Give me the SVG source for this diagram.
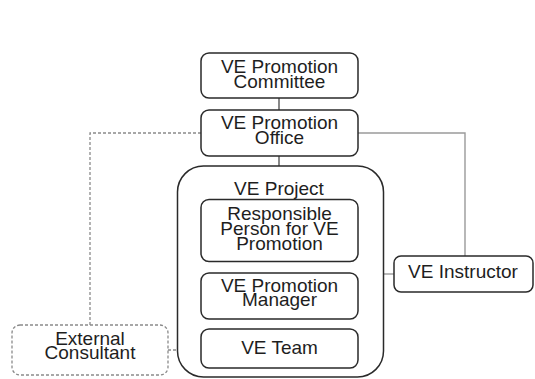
<svg xmlns="http://www.w3.org/2000/svg" width="535" height="379" viewBox="0 0 535 379">
  <style>
    .box { fill: #ffffff; stroke: #2a2a2a; stroke-width: 1.5; }
    .dash-box { fill: #ffffff; stroke: #8a8a8a; stroke-width: 1.3; stroke-dasharray: 3 2; }
    .label { font-family: "Liberation Sans", Arial, sans-serif; font-size: 19px; fill: #1e1e1e; text-anchor: middle; }
    .link { fill: none; stroke: #3a3a3a; stroke-width: 1.2; }
    .link-light { fill: none; stroke: #9a9a9a; stroke-width: 1.4; }
    .link-dash { fill: none; stroke: #8a8a8a; stroke-width: 1.3; stroke-dasharray: 3 2; }
  </style>
  <rect width="535" height="379" fill="#ffffff"/>

  <g id="connectors">
    <line class="link" x1="279" y1="98" x2="279" y2="110"/>
    <line class="link" x1="279" y1="156" x2="279" y2="166"/>
    <line class="link" x1="279" y1="262" x2="279" y2="273"/>
    <line class="link" x1="279" y1="319" x2="279" y2="329"/>
    <polyline class="link-light" points="358,133 465,133 465,256"/>
    <line class="link-light" x1="384" y1="274" x2="394" y2="274"/>
    <polyline class="link-dash" points="201,133 90,133 90,325"/>
    <line class="link-dash" x1="168" y1="350" x2="201" y2="350"/>
  </g>

  <g id="ve-project">
    <rect class="box" x="177.5" y="166" width="206" height="211" rx="26" ry="26"/>
    <text class="label" x="279" y="195">VE Project</text>
  </g>

  <g id="ve-promotion-committee">
    <rect class="box" x="201" y="53" width="157" height="45" rx="8" ry="8"/>
    <text class="label" x="279.5" y="72.5">VE Promotion<tspan x="279.5" dy="15">Committee</tspan></text>
  </g>

  <g id="ve-promotion-office">
    <rect class="box" x="201" y="110" width="157" height="46" rx="8" ry="8"/>
    <text class="label" x="279.5" y="129">VE Promotion<tspan x="279.5" dy="15">Office</tspan></text>
  </g>

  <g id="responsible-person">
    <rect class="box" x="201" y="199.5" width="157" height="62" rx="8" ry="8"/>
    <text class="label" x="279.5" y="220">Responsible<tspan x="279.5" dy="15">Person for VE</tspan><tspan x="279.5" dy="15">Promotion</tspan></text>
  </g>

  <g id="ve-promotion-manager">
    <rect class="box" x="201" y="273" width="157" height="46" rx="8" ry="8"/>
    <text class="label" x="279.5" y="292">VE Promotion<tspan x="279.5" dy="14">Manager</tspan></text>
  </g>

  <g id="ve-team">
    <rect class="box" x="201" y="329" width="157" height="39" rx="8" ry="8"/>
    <text class="label" x="279.5" y="353.5">VE Team</text>
  </g>

  <g id="ve-instructor">
    <rect class="box" x="394" y="256" width="139" height="36" rx="7" ry="7"/>
    <text class="label" x="463" y="277.5">VE Instructor</text>
  </g>

  <g id="external-consultant">
    <rect class="dash-box" x="12" y="325" width="156" height="50" rx="8" ry="8"/>
    <text class="label" x="90" y="344.5">External<tspan x="90" dy="14">Consultant</tspan></text>
  </g>
</svg>
